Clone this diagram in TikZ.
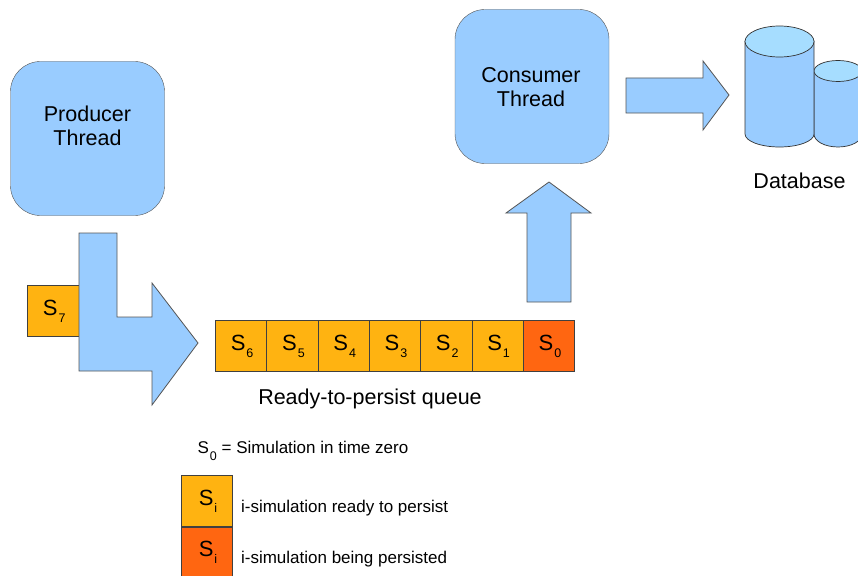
\documentclass[tikz,border=0pt]{standalone}
\usepackage{fontspec}
\setmainfont{Liberation Sans}
\definecolor{threadblue}{HTML}{99CCFF}
\definecolor{toplight}{HTML}{A6DDFF}
\definecolor{readyorange}{HTML}{FFB311}
\definecolor{busyorange}{HTML}{FF6611}
\definecolor{edgegrey}{HTML}{555555}
\newcommand{\simtext}[1]{\kern2pt S\raisebox{-7pt}{\fontsize{12.5}{12.5}\selectfont\kern1pt #1}}
\begin{document}
\begin{tikzpicture}
[
 x=1pt,
 y=-1pt,
 inner sep=0.5mm,
 THREAD/.style={rectangle, draw=edgegrey, fill=threadblue, thin, rounded corners=30pt, minimum size=154pt},
 BLOCK/.style={draw=edgegrey, fill=threadblue, line width=0.8pt},
 DRUM/.style={draw=black!80, fill=threadblue, line width=0.7pt},
 DRUMTOP/.style={draw=black!80, fill=toplight, line width=0.7pt},
 READY/.style={rectangle, draw=black!75, fill=readyorange, line width=0.6pt, minimum size=51.3pt, font=\fontsize{22}{24}\selectfont},
 BUSY/.style={rectangle, draw=black!75, fill=busyorange, line width=0.6pt, minimum size=51.3pt, font=\fontsize{22}{24}\selectfont},
 BIGTEXT/.style={align=center, font=\fontsize{21.5}{24.5}\selectfont},
 NOTE/.style={anchor=west, font=\fontsize{17}{19}\selectfont},
 ]
%
\useasboundingbox (0,0) rectangle (858,575);
\clip (0,0) rectangle (858,575);
%
\node [THREAD]  (PROD)   at ( 87.5,138.5)  {};
\node [BIGTEXT]  (PRODTEXT)   at ( 87.5,126)  {Producer\\Thread};
\node [THREAD]  (CONS)   at (532,86.5)  {};
\node [BIGTEXT]  (CONSTEXT)   at (531,87)  {Consumer\\Thread};
%
\node [READY]  (S7)   at (53.3,311)  {\simtext{7}};
\draw [BLOCK]  (79,233) -- (117,233) -- (117,317) -- (152,317) -- (152,283) -- (198,343)
   -- (152,405) -- (152,371) -- (79,371) -- cycle;
\draw [BLOCK]  (527,302) -- (527,213) -- (506,213) -- (549,182) -- (591,213) -- (571,213) -- (571,302) -- cycle;
\draw [BLOCK]  (626,78) -- (703,78) -- (703,61) -- (729,95) -- (703,130) -- (703,113) -- (626,113) -- cycle;
%
\foreach \x in {0,1,2,3,4,5} {
  \pgfmathsetmacro{\xpos}{(241.1+51.3*\x)}
  \pgfmathsetmacro{\num}{int(6-\x)}
  \node [READY]  (S\num)   at (\xpos,346)  {\simtext{\num}};
}
\node [BUSY]  (S0)   at (548.9,346)  {\simtext{0}};
%
\node [BIGTEXT]  (QUEUE)   at (370,398.5)  {Ready-to-persist queue};
%
\draw [DRUM]  (814,71) -- (814,134) arc [start angle=180, end angle=360, x radius=24pt, y radius=13pt] -- (862,71) -- cycle;
\draw [DRUMTOP]  (838,71) ellipse [x radius=24pt, y radius=10.5pt];
\draw [DRUM]  (745,41) -- (745,134) arc [start angle=180, end angle=360, x radius=34.5pt, y radius=13pt] -- (814,41) -- cycle;
\draw [DRUMTOP]  (779.5,41.5) ellipse [x radius=34.5pt, y radius=15.5pt];
\node [BIGTEXT]  (DB)   at (799.5,180.5)  {Database};
%
\node [NOTE]  (ZERO)   at (194,451)  {\simtext{0} = Simulation in time zero};
\node [READY]  (KEYA)   at (207,501)  {\simtext{i}};
\node [BUSY]  (KEYB)   at (207,552.5)  {\simtext{i}};
\node [NOTE]  (NOTEA)   at (239.5,508)  {i-simulation ready to persist};
\node [NOTE]  (NOTEB)   at (239.5,559)  {i-simulation being persisted};
%
\end{tikzpicture}
\end{document}
